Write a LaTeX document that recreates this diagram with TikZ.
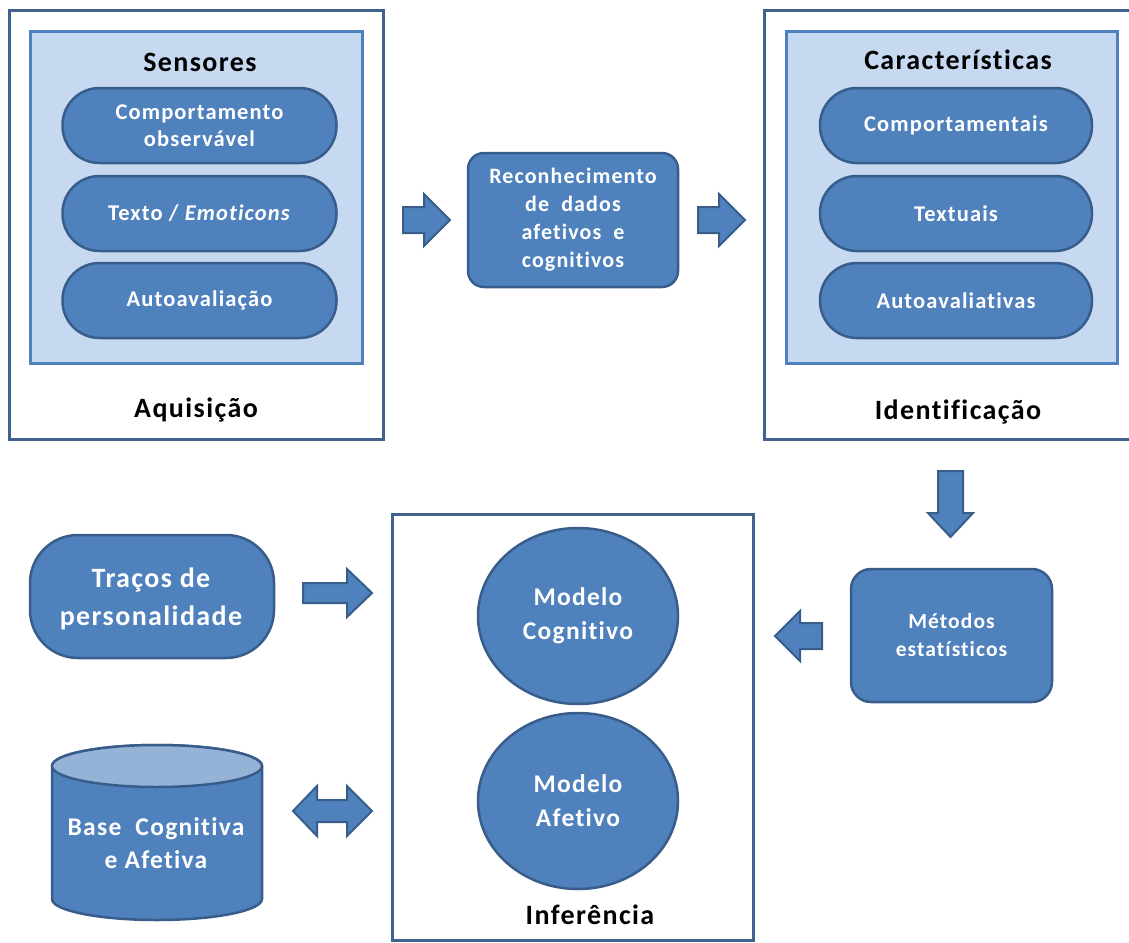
\documentclass[tikz,border=0pt]{standalone}
\usepackage{fontspec}
\setmainfont{Carlito}[LetterSpace=5,Ligatures=NoCommon]
\usetikzlibrary{shapes.geometric}
\definecolor{fillb}{HTML}{4F81BD}
\definecolor{lineb}{HTML}{385D8A}
\definecolor{lightb}{HTML}{C6D9F1}
\definecolor{topb}{HTML}{95B3D7}
\definecolor{frameb}{HTML}{41628E}
\begin{document}
\begin{tikzpicture}[x=1pt,y=-1pt,
  frame/.style={draw=frameb,line width=3pt,fill=white},
  inner/.style={draw=fillb,line width=3pt,fill=lightb},
  pill/.style={draw=lineb,line width=2.5pt,fill=fillb,rounded corners=37pt,minimum width=274pt,minimum height=75pt,inner sep=0pt,text=white,align=center,font=\bfseries\fontsize{22.5}{27}\selectfont},
  rbox/.style={draw=lineb,line width=2.5pt,fill=fillb,inner sep=0pt,text=white,align=center,font=\bfseries\fontsize{22}{28}\selectfont},
  ell/.style={ellipse,draw=lineb,line width=2.5pt,fill=fillb,minimum width=200pt,minimum height=176pt,inner sep=0pt,text=white,align=center,font=\bfseries\fontsize{25.5}{34}\selectfont},
  title/.style={font=\bfseries\fontsize{28}{30}\selectfont,text=black,inner sep=0pt},
  barrow/.style={draw=lineb,line width=2pt,fill=fillb,line join=miter}]
\useasboundingbox (0,0) rectangle (1129,942);

% ---------- Aquisicao ----------
\node[frame,minimum width=374pt,minimum height=428pt,inner sep=0pt] (aq) at (196,225) {};
\node[inner,minimum width=332pt,minimum height=331pt,inner sep=0pt] (sens) at (196,197.5) {};
\node[title] (senst) at (200,62) {Sensores};
\node[pill] (p1) at (199.5,125.5) {Comportamento\\observável};
\node[pill] (p2) at (199.5,213.5) {Texto / \textit{Emoticons}};
\node[pill] (p3) at (199.5,300.5) {Autoavaliação};
\node[title] (aqt) at (196,410) {Aquisição};

% ---------- Reconhecimento ----------
\node[rbox,rounded corners=16pt,minimum width=210pt,minimum height=134pt] (rec) at (573,220) {Reconhecimento\\de\ \ dados\\afetivos\ \ e\\cognitivos};

% ---------- Identificacao ----------
\fill[white] (764,11) rectangle (1129,439);
\draw[frameb,line width=3pt] (1129,11) -- (764,11) -- (764,439) -- (1129,439);
\node[inner,minimum width=331pt,minimum height=331pt,inner sep=0pt] (car) at (951.5,197.5) {};
\node[title] (cart) at (958,60) {Características};
\node[pill,minimum width=272pt] (q1) at (956,125.5) {Comportamentais};
\node[pill,minimum width=272pt] (q2) at (956,213.5) {Textuais};
\node[pill,minimum width=272pt] (q3) at (956,300.5) {Autoavaliativas};
\node[title] (idt) at (958,412) {Identificação};

% ---------- Metodos ----------
\node[rbox,rounded corners=20pt,minimum width=201pt,minimum height=133pt,font=\bfseries\fontsize{21.5}{28}\selectfont] (met) at (951.5,635.5) {Métodos\\estatísticos};

% ---------- Inferencia ----------
\node[frame,minimum width=361pt,minimum height=426pt,inner sep=0pt] (inf) at (572.5,727) {};
\node[ell] (mc) at (578,616) {Modelo\\Cognitivo};
\node[ell] (ma) at (578,801) {Modelo\\Afetivo};
\node[title] (inft) at (590,915) {Inferência};

% ---------- Tracos ----------
\node[rbox,rounded corners=48pt,minimum width=244pt,minimum height=123pt] (tra) at (152,596.5) {};
\node[text=white,align=center,font=\bfseries\fontsize{28}{38}\selectfont,inner sep=0pt] (trat) at (151,599) {Traços de\\personalidade};

% ---------- Base (cylinder) ----------
\draw[draw=lineb,line width=2.5pt,fill=fillb] (52,766) -- (52,899) arc[start angle=180,end angle=360,x radius=105pt,y radius=21pt] -- (262,766) arc[start angle=0,end angle=180,x radius=105pt,y radius=21pt] -- cycle;
\draw[draw=lineb,line width=2.5pt,fill=topb] (157,766) ellipse[x radius=105pt,y radius=21pt];
\node[text=white,align=center,font=\bfseries\fontsize{25.5}{33}\selectfont,inner sep=0pt] (base) at (156,843) {Base\ \ Cognitiva\\e Afetiva};

% ---------- block arrows ----------
\draw[barrow] (403,207) -- (424,207) -- (424,194) -- (450,220) -- (424,246) -- (424,233) -- (403,233) -- cycle;
\draw[barrow] (698,207) -- (719,207) -- (719,194) -- (745,220) -- (719,246) -- (719,233) -- (698,233) -- cycle;
\draw[barrow] (938,471) -- (963,471) -- (963,513) -- (973,513) -- (950.5,537) -- (928,513) -- (938,513) -- cycle;
\draw[barrow] (822,623) -- (800,623) -- (800,611) -- (775,636) -- (800,661) -- (800,649) -- (822,649) -- cycle;
\draw[barrow] (303,583) -- (347,583) -- (347,569) -- (372,593) -- (347,617) -- (347,603) -- (303,603) -- cycle;
\draw[barrow] (317,800) -- (347,800) -- (347,786) -- (372,811) -- (347,836) -- (347,822) -- (317,822) -- (317,836) -- (293,811) -- (317,786) -- cycle;
\end{tikzpicture}
\end{document}
